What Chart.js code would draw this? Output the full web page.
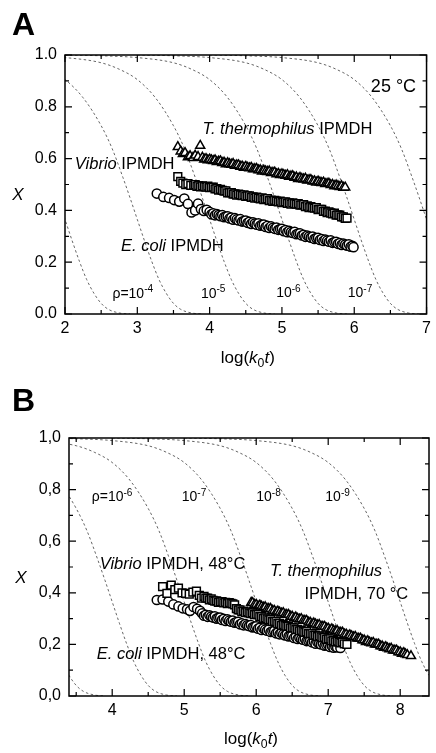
<!DOCTYPE html>
<html><head><meta charset="utf-8">
<script src="https://cdn.jsdelivr.net/npm/chart.js@4.4.1/dist/chart.umd.min.js"></script>
<style>
html,body{margin:0;padding:0;background:#fff;}
canvas{position:absolute;left:0;}
#cA{top:0;} #cB{top:376px;}
</style></head><body>
<canvas id="cA" width="436" height="376"></canvas>
<canvas id="cB" width="436" height="377"></canvas>
<script>
// ---------- tick values / labels ----------
const xTicksA = [2,3,4,5,6,7];
const xTickLabelsA = ['2','3','4','5','6','7'];
const xMinorA = [2.5,3.5,4.5,5.5,6.5];
const xTicksB = [4,5,6,7,8];
const xTickLabelsB = ['4','5','6','7','8'];
const xMinorB = [3.5,4.5,5.5,6.5,7.5];
const yTicks = [0,0.2,0.4,0.6,0.8,1.0];
const yTickLabelsA = ['0.0','0.2','0.4','0.6','0.8','1.0'];
const yTickLabelsB = ['0,0','0,2','0,4','0,6','0,8','1,0'];
const yMinor = [0.1,0.3,0.5,0.7,0.9];

// ---------- dotted model curves (X) ----------
const curveY = [1.0,0.997,0.99,0.97,0.945,0.905,0.835,0.727,0.64,0.528,0.448,0.365,0.282,0.203,0.133,0.08,0.041,0.018,0.004,0.0];
const rho3X = [-1,-0.5,0,0.5,0.75,1,1.25,1.5,1.65,1.8,1.9,2,2.1,2.2,2.3,2.4,2.5,2.6,2.75,2.9];
const rho4X = [0,0.5,1,1.5,1.75,2,2.25,2.5,2.65,2.8,2.9,3,3.1,3.2,3.3,3.4,3.5,3.6,3.75,3.9];
const rho5X = [1,1.5,2,2.5,2.75,3,3.25,3.5,3.65,3.8,3.9,4,4.1,4.2,4.3,4.4,4.5,4.6,4.75,4.9];
const rho6X = [2,2.5,3,3.5,3.75,4,4.25,4.5,4.65,4.8,4.9,5,5.1,5.2,5.3,5.4,5.5,5.6,5.75,5.9];
const rho7X = [3,3.5,4,4.5,4.75,5,5.25,5.5,5.65,5.8,5.9,6,6.1,6.2,6.3,6.4,6.5,6.6,6.75,6.9];
const rho8X = [4,4.5,5,5.5,5.75,6,6.25,6.5,6.65,6.8,6.9,7,7.1,7.2,7.3,7.4,7.5,7.6,7.75,7.9];
const rho9X = [5,5.5,6,6.5,6.75,7,7.25,7.5,7.65,7.8,7.9,8,8.1,8.2,8.3,8.4,8.5,8.6,8.75,8.9];

// ---------- Panel A, 25 °C ----------
const thermAx = [3.56,3.60,3.63,3.66,3.70,3.73,3.77,3.80,3.84,3.87,
 3.900,3.925,3.950,3.975,4.000,4.025,4.050,4.075,4.100,4.125,4.150,4.175,4.200,4.225,4.250,4.275,4.300,4.325,4.350,4.375,
 4.400,4.425,4.450,4.475,4.500,4.525,4.550,4.575,4.600,4.625,4.650,4.675,4.700,4.725,4.750,4.775,4.800,4.825,4.850,4.875,
 4.900,4.925,4.950,4.975,5.000,5.025,5.050,5.075,5.100,5.125,5.150,5.175,5.200,5.225,5.250,5.275,5.300,5.325,5.350,5.375,
 5.400,5.425,5.450,5.475,5.500,5.525,5.550,5.575,5.600,5.625,5.650,5.675,5.700,5.725,5.750,5.775,5.800,5.825,5.850,5.875];
const thermAy = [0.645,0.628,0.618,0.622,0.606,0.610,0.603,0.612,0.607,0.650,
 0.604,0.597,0.599,0.594,0.597,0.594,0.591,0.594,0.587,0.589,0.590,0.583,0.585,0.579,0.583,0.579,0.577,0.580,0.573,0.575,
 0.575,0.569,0.570,0.565,0.569,0.565,0.563,0.565,0.559,0.560,0.561,0.555,0.556,0.551,0.554,0.551,0.549,0.551,0.545,0.546,
 0.547,0.540,0.542,0.537,0.540,0.537,0.534,0.537,0.530,0.532,0.533,0.526,0.528,0.522,0.526,0.522,0.520,0.523,0.516,0.518,
 0.518,0.512,0.513,0.508,0.512,0.508,0.506,0.508,0.502,0.503,0.504,0.498,0.499,0.494,0.497,0.494,0.491,0.494,0.488,0.489];
const vibAx = [3.56,3.60,3.63,3.67,3.70,3.74,3.78,
 3.800,3.825,3.850,3.875,3.900,3.925,3.950,3.975,4.000,4.025,4.050,4.075,4.100,4.125,4.150,4.175,4.200,4.225,4.250,4.275,
 4.300,4.325,4.350,4.375,4.400,4.425,4.450,4.475,4.500,4.525,4.550,4.575,4.600,4.625,4.650,4.675,4.700,4.725,4.750,4.775,
 4.800,4.825,4.850,4.875,4.900,4.925,4.950,4.975,5.000,5.025,5.050,5.075,5.100,5.125,5.150,5.175,5.200,5.225,5.250,5.275,
 5.300,5.325,5.350,5.375,5.400,5.425,5.450,5.475,5.500,5.525,5.550,5.575,5.600,5.625,5.650,5.675,5.700,5.725,5.750,5.775,
 5.800,5.825,5.850,5.875,5.900];
const vibAy = [0.530,0.512,0.505,0.500,0.503,0.497,0.498,
 0.499,0.493,0.496,0.491,0.495,0.492,0.490,0.494,0.488,0.489,0.490,0.483,0.484,0.478,0.481,0.477,0.474,0.475,0.468,0.469,
 0.469,0.463,0.464,0.459,0.463,0.460,0.457,0.460,0.454,0.456,0.456,0.450,0.452,0.447,0.451,0.447,0.445,0.448,0.442,0.444,
 0.445,0.438,0.440,0.435,0.439,0.436,0.433,0.436,0.430,0.432,0.433,0.427,0.429,0.424,0.429,0.426,0.424,0.426,0.420,0.421,
 0.422,0.415,0.417,0.411,0.415,0.411,0.409,0.411,0.403,0.404,0.404,0.396,0.397,0.391,0.394,0.390,0.387,0.389,0.382,0.383,
 0.382,0.375,0.375,0.369,0.370];
const coliAx = [3.27,3.36,3.44,3.51,3.58,3.65,3.70,3.75,3.80,3.84,3.88,3.92,3.96,
 4.000,4.025,4.050,4.075,4.100,4.125,4.150,4.175,4.200,4.225,4.250,4.275,4.300,4.325,4.350,4.375,4.400,4.425,4.450,4.475,
 4.500,4.525,4.550,4.575,4.600,4.625,4.650,4.675,4.700,4.725,4.750,4.775,4.800,4.825,4.850,4.875,4.900,4.925,4.950,4.975,
 5.000,5.025,5.050,5.075,5.100,5.125,5.150,5.175,5.200,5.225,5.250,5.275,5.300,5.325,5.350,5.375,5.400,5.425,5.450,5.475,
 5.500,5.525,5.550,5.575,5.600,5.625,5.650,5.675,5.700,5.725,5.750,5.775,5.800,5.825,5.850,5.875,5.900,5.925,5.950,5.975,5.990];
const coliAy = [0.465,0.452,0.448,0.440,0.434,0.446,0.425,0.392,0.400,0.426,0.405,0.398,0.402,
 0.394,0.385,0.389,0.381,0.386,0.382,0.378,0.382,0.374,0.376,0.377,0.369,0.372,0.364,0.370,0.365,0.361,0.366,0.357,0.359,
 0.361,0.352,0.356,0.348,0.354,0.349,0.345,0.350,0.341,0.344,0.345,0.336,0.340,0.332,0.338,0.333,0.329,0.334,0.325,0.328,
 0.329,0.320,0.324,0.316,0.321,0.316,0.313,0.317,0.308,0.310,0.311,0.303,0.306,0.298,0.303,0.299,0.295,0.299,0.290,0.293,
 0.294,0.286,0.289,0.282,0.287,0.283,0.279,0.284,0.275,0.278,0.279,0.271,0.274,0.267,0.272,0.268,0.264,0.269,0.260,0.263,0.258];

// ---------- Panel B ----------
const thermBx = [5.93,
 5.950,5.975,6.000,6.025,6.050,6.075,6.100,6.125,6.150,6.175,6.200,6.225,6.250,6.275,6.300,6.325,6.350,6.375,6.400,6.425,
 6.450,6.475,6.500,6.525,6.550,6.575,6.600,6.625,6.650,6.675,6.700,6.725,6.750,6.775,6.800,6.825,6.850,6.875,6.900,6.925,
 6.950,6.975,7.000,7.025,7.050,7.075,7.100,7.125,7.150,7.175,7.200,7.225,7.250,7.275,7.300,7.325,7.350,7.375,7.400,7.425,
 7.450,7.475,7.500,7.525,7.550,7.575,7.600,7.625,7.650,7.675,7.700,7.725,7.750,7.775,7.800,7.825,7.850,7.875,7.900,7.925,
 7.950,7.975,8.000,8.025,8.050,8.075,8.100,8.150];
const thermBy = [0.362,
 0.361,0.354,0.354,0.348,0.351,0.347,0.343,0.345,0.338,0.338,0.338,0.331,0.331,0.325,0.328,0.324,0.320,0.322,0.315,0.315,
 0.315,0.308,0.308,0.302,0.305,0.300,0.297,0.299,0.292,0.292,0.292,0.285,0.285,0.279,0.282,0.278,0.274,0.276,0.269,0.269,
 0.269,0.262,0.262,0.256,0.259,0.254,0.251,0.253,0.246,0.246,0.246,0.239,0.239,0.233,0.236,0.232,0.228,0.230,0.223,0.223,
 0.223,0.216,0.216,0.210,0.213,0.208,0.205,0.207,0.200,0.200,0.200,0.193,0.193,0.187,0.190,0.185,0.182,0.184,0.177,0.177,
 0.177,0.170,0.170,0.164,0.167,0.162,0.159,0.155];
const vibBx = [4.70,4.76,4.82,4.87,4.92,4.97,5.02,5.07,5.12,5.17,5.21,5.24,
 5.275,5.300,5.325,5.350,5.375,5.400,5.425,5.450,5.475,5.500,5.525,5.550,5.575,5.600,5.625,5.650,5.675,5.700,5.725,5.750,
 5.775,5.800,5.825,5.850,5.875,5.900,5.925,5.950,5.975,6.000,6.025,6.050,6.075,6.100,6.125,6.150,6.175,6.200,6.225,6.250,
 6.275,6.300,6.325,6.350,6.375,6.400,6.425,6.450,6.475,6.500,6.525,6.550,6.575,6.600,6.625,6.650,6.675,6.700,6.725,6.750,
 6.775,6.800,6.825,6.850,6.875,6.900,6.925,6.950,6.975,7.000,7.025,7.050,7.075,7.100,7.125,7.150,7.175,7.200,7.225,7.260];
const vibBy = [0.424,0.398,0.430,0.412,0.418,0.400,0.398,0.395,0.403,0.406,0.390,0.379,
 0.386,0.379,0.379,0.373,0.376,0.371,0.368,0.369,0.363,0.365,0.366,0.361,0.363,0.358,0.362,0.359,0.357,0.353,0.339,0.334,
 0.334,0.327,0.329,0.323,0.326,0.322,0.319,0.322,0.315,0.316,0.315,0.308,0.308,0.301,0.303,0.299,0.295,0.296,0.288,0.289,
 0.288,0.280,0.281,0.274,0.277,0.273,0.270,0.271,0.264,0.265,0.264,0.257,0.258,0.252,0.254,0.250,0.247,0.249,0.242,0.242,
 0.242,0.235,0.236,0.230,0.233,0.229,0.225,0.227,0.220,0.221,0.221,0.214,0.215,0.210,0.213,0.209,0.206,0.209,0.202,0.200];
const coliBx = [4.62,4.70,4.78,4.85,4.92,4.98,5.04,5.08,5.13,5.18,5.22,
 5.250,5.275,5.300,5.325,5.350,5.375,5.400,5.425,5.450,5.475,5.500,5.525,5.550,5.575,5.600,5.625,5.650,5.675,5.700,5.725,
 5.750,5.775,5.800,5.825,5.850,5.875,5.900,5.925,5.950,5.975,6.000,6.025,6.050,6.075,6.100,6.125,6.150,6.175,6.200,6.225,
 6.250,6.275,6.300,6.325,6.350,6.375,6.400,6.425,6.450,6.475,6.500,6.525,6.550,6.575,6.600,6.625,6.650,6.675,6.700,6.725,
 6.750,6.775,6.800,6.825,6.850,6.875,6.900,6.925,6.950,6.975,7.000,7.025,7.050,7.075,7.100,7.125,7.170];
const coliBy = [0.372,0.374,0.366,0.355,0.347,0.340,0.336,0.330,0.345,0.338,0.330,
 0.320,0.311,0.315,0.307,0.313,0.308,0.304,0.309,0.300,0.303,0.304,0.295,0.299,0.291,0.297,0.292,0.288,0.292,0.284,0.286,
 0.287,0.278,0.282,0.274,0.279,0.274,0.271,0.275,0.266,0.268,0.270,0.261,0.264,0.256,0.262,0.257,0.253,0.257,0.248,0.251,
 0.252,0.243,0.246,0.239,0.244,0.239,0.235,0.239,0.231,0.233,0.234,0.225,0.229,0.221,0.226,0.221,0.218,0.222,0.213,0.215,
 0.216,0.208,0.211,0.203,0.208,0.204,0.200,0.204,0.195,0.197,0.199,0.190,0.194,0.187,0.192,0.188,0.186];

// ---------- drawing helpers ----------
const FONT = '"Liberation Sans", Arial, Helvetica, sans-serif';
Chart.defaults.font.family = FONT;
const pts = (xs, ys) => xs.map((x, i) => ({x: x, y: ys[i]}));

function curveDs(xs) {
  return {data: pts(xs, curveY), showLine: true, pointRadius: 0, borderColor: '#555',
    borderWidth: 0.9, borderDash: [2.5, 2.5], cubicInterpolationMode: 'monotone',
    capBezierPoints: false, clip: 0, order: 10};
}
function markDs(xs, ys, style, r, order) {
  return {data: pts(xs, ys), showLine: false, pointStyle: style, pointRadius: r,
    pointBorderWidth: 1.5, pointBorderColor: '#000', pointBackgroundColor: '#fff', order: order};
}

function richWidth(ctx, parts, size) {
  let w = 0;
  for (const [t, s] of parts) {
    const fs = (s === 's' || s === 'b') ? size * 0.72 : size;
    ctx.font = (s === 'i' ? 'italic ' : '') + fs + 'px ' + FONT;
    w += ctx.measureText(t).width;
  }
  return w;
}
function drawRich(ctx, x, y, parts, size) {
  let cx = x;
  ctx.textAlign = 'left'; ctx.textBaseline = 'alphabetic';
  for (const [t, s] of parts) {
    const fs = (s === 's' || s === 'b') ? size * 0.72 : size;
    ctx.font = (s === 'i' ? 'italic ' : '') + fs + 'px ' + FONT;
    const dy = s === 's' ? -size * 0.38 : (s === 'b' ? size * 0.25 : 0);
    ctx.fillText(t, cx, y + dy);
    cx += ctx.measureText(t).width;
  }
}

function makeDeco(cfg) {
  return {
    id: 'deco',
    afterDraw(chart) {
      const {ctx, chartArea: a, scales} = chart;
      const xs = scales.x, ys = scales.y;
      ctx.save();
      ctx.strokeStyle = '#000';
      ctx.lineWidth = 1.2;
      ctx.beginPath();
      const vt = (arr, len) => arr.forEach(v => {
        const px = xs.getPixelForValue(v);
        ctx.moveTo(px, a.bottom); ctx.lineTo(px, a.bottom - len);
        ctx.moveTo(px, a.top); ctx.lineTo(px, a.top + len);
      });
      const ht = (arr, len) => arr.forEach(v => {
        const py = ys.getPixelForValue(v);
        ctx.moveTo(a.left, py); ctx.lineTo(a.left + len, py);
        ctx.moveTo(a.right, py); ctx.lineTo(a.right - len, py);
      });
      vt(cfg.xMajor, 7); vt(cfg.xMinor, 4);
      ht(yTicks, 7); ht(yMinor, 4);
      ctx.stroke();
      ctx.lineWidth = 1.5;
      ctx.strokeRect(a.left, a.top, a.right - a.left, a.bottom - a.top);
      ctx.fillStyle = '#000';
      for (const n of cfg.notes) {
        drawRich(ctx, xs.getPixelForValue(n.x), ys.getPixelForValue(n.y), n.parts, n.size);
      }
      const tparts = [['log(', ''], ['k', 'i'], ['0', 'b'], ['t', 'i'], [')', '']];
      const tw = richWidth(ctx, tparts, 17);
      drawRich(ctx, (a.left + a.right) / 2 - tw / 2 + 2, a.bottom + cfg.xTitleGap, tparts, 17);
      const yw = richWidth(ctx, [['X', 'i']], 17);
      drawRich(ctx, cfg.yTitleX - yw / 2, (a.top + a.bottom) / 2 + cfg.yTitleDy, [['X', 'i']], 17);
      ctx.font = 'bold 32px ' + FONT;
      ctx.textAlign = 'left'; ctx.textBaseline = 'alphabetic';
      ctx.fillText(cfg.letter, 12, 35);
      ctx.restore();
    }
  };
}

function makeChart(id, cfg) {
  return new Chart(document.getElementById(id), {
    type: 'scatter',
    data: {datasets: cfg.datasets},
    options: {
      responsive: false, animation: false, events: [], devicePixelRatio: 1,
      layout: {padding: {left: 0, right: 3, top: cfg.top, bottom: 0}},
      plugins: {legend: {display: false}, tooltip: {enabled: false}},
      scales: {
        x: {type: 'linear', min: cfg.xMin, max: cfg.xMax,
          grid: {display: false, drawTicks: false}, border: {display: false},
          afterBuildTicks: s => { s.ticks = cfg.xMajor.map(v => ({value: v})); },
          afterFit: s => { s.height = cfg.xAxisH; },
          ticks: {autoSkip: false, maxRotation: 0, padding: 5, color: '#000',
            font: {size: 16, family: FONT}, callback: (v, i) => cfg.xLabels[i]}},
        y: {type: 'linear', min: 0, max: 1,
          grid: {display: false, drawTicks: false}, border: {display: false},
          afterBuildTicks: s => { s.ticks = yTicks.map(v => ({value: v})); },
          afterFit: s => { s.width = cfg.yAxisW; },
          ticks: {autoSkip: false, padding: 8, color: '#000',
            font: {size: 16, family: FONT}, callback: (v, i) => cfg.yLabels[i]}}
      }
    },
    plugins: [makeDeco(cfg)]
  });
}

const rhoParts = (e, withRho) => (withRho ? [['ρ=10', ''], [e, 's']] : [['10', ''], [e, 's']]);

makeChart('cA', {
  top: 55, xMin: 2, xMax: 7, xAxisH: 62, yAxisW: 65,
  xMajor: xTicksA, xMinor: xMinorA, xLabels: xTickLabelsA, yLabels: yTickLabelsA,
  xTitleGap: 49, yTitleX: 18, yTitleDy: 15, letter: 'A',
  datasets: [
    markDs(thermAx, thermAy, 'triangle', 5.2, 1),
    markDs(vibAx, vibAy, 'rect', 5.5, 2),
    markDs(coliAx, coliAy, 'circle', 4.6, 3),
    curveDs(rho3X), curveDs(rho4X), curveDs(rho5X), curveDs(rho6X), curveDs(rho7X), curveDs(rho8X)
  ],
  notes: [
    {x: 3.90, y: 0.695, size: 16.5, parts: [['T. thermophilus', 'i'], [' IPMDH', '']]},
    {x: 2.136, y: 0.559, size: 16.5, parts: [['Vibrio', 'i'], [' IPMDH', '']]},
    {x: 2.775, y: 0.243, size: 16.5, parts: [['E. coli', 'i'], [' IPMDH', '']]},
    {x: 6.23, y: 0.858, size: 18, parts: [['25 °C', '']]},
    {x: 2.656, y: 0.063, size: 14, parts: rhoParts('-4', true)},
    {x: 3.88, y: 0.063, size: 14, parts: rhoParts('-5', false)},
    {x: 4.92, y: 0.066, size: 14, parts: rhoParts('-6', false)},
    {x: 5.91, y: 0.066, size: 14, parts: rhoParts('-7', false)}
  ]
});

makeChart('cB', {
  top: 62, xMin: 3.4, xMax: 8.4, xAxisH: 57, yAxisW: 69,
  xMajor: xTicksB, xMinor: xMinorB, xLabels: xTickLabelsB, yLabels: yTickLabelsB,
  xTitleGap: 48, yTitleX: 21, yTitleDy: 16, letter: 'B',
  datasets: [
    markDs(thermBx, thermBy, 'triangle', 5.2, 1),
    markDs(vibBx, vibBy, 'rect', 5.5, 2),
    markDs(coliBx, coliBy, 'circle', 4.6, 3),
    curveDs(rho4X), curveDs(rho5X), curveDs(rho6X), curveDs(rho7X), curveDs(rho8X), curveDs(rho9X)
  ],
  notes: [
    {x: 3.716, y: 0.756, size: 14, parts: rhoParts('-6', true)},
    {x: 4.966, y: 0.756, size: 14, parts: rhoParts('-7', false)},
    {x: 6.0, y: 0.756, size: 14, parts: rhoParts('-8', false)},
    {x: 6.96, y: 0.756, size: 14, parts: rhoParts('-9', false)},
    {x: 3.826, y: 0.492, size: 16.5, parts: [['Vibrio', 'i'], [' IPMDH, 48°C', '']]},
    {x: 6.19, y: 0.465, size: 16.5, parts: [['T. thermophilus', 'i']]},
    {x: 6.67, y: 0.376, size: 16.5, parts: [['IPMDH, 70 °C', '']]},
    {x: 3.785, y: 0.145, size: 16.5, parts: [['E. coli', 'i'], [' IPMDH, 48°C', '']]}
  ]
});
</script>
</body></html>
